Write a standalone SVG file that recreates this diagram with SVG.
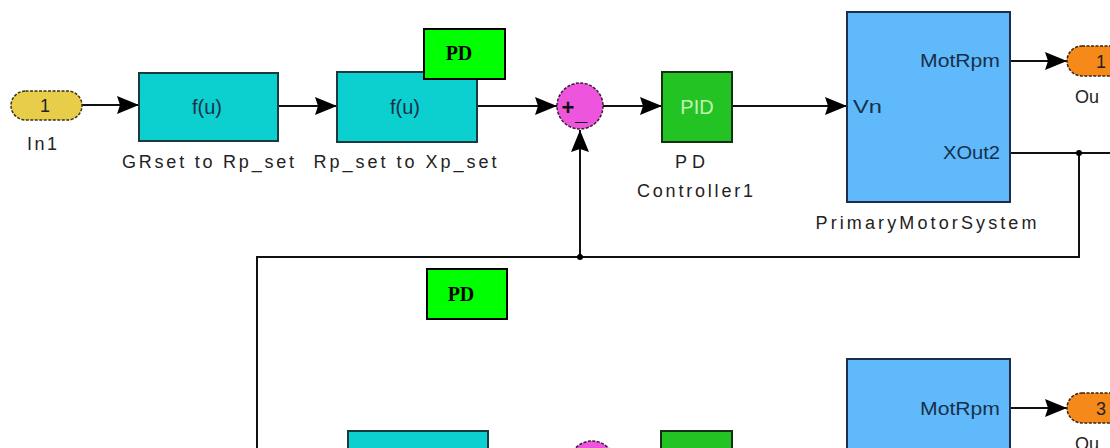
<svg xmlns="http://www.w3.org/2000/svg" width="1110" height="448" viewBox="0 0 1110 448">
<defs>
<marker id="arr" markerUnits="userSpaceOnUse" markerWidth="22" markerHeight="20" refX="22" refY="10" orient="auto">
<path d="M0,1 L22,10 L0,19 L3,10 Z" fill="#000"/>
</marker>
<style>
.ln{stroke:#111;stroke-width:2;fill:none}
.fu{fill:#0ccfcf;stroke:#1b3a3f;stroke-width:2}
.pid{fill:#22c322;stroke:#163016;stroke-width:2}
.mot{fill:#5fb9fb;stroke:#1b2f4a;stroke-width:2}
.pd{fill:#00ff00;stroke:#000;stroke-width:2}
.sum{fill:#ee55dd;stroke:#3a1a36;stroke-width:1.5;stroke-dasharray:3 1.5}
.inp{fill:#e8cd4a;stroke:#3a3410;stroke-width:1.5;stroke-dasharray:3 1.5}
.outp{fill:#f58a1a;stroke:#3a2410;stroke-width:1.5;stroke-dasharray:3 1.5}
.t{font-family:"Liberation Sans",Arial,sans-serif;font-size:18px;fill:#222}
.tb{font-family:"Liberation Sans",Arial,sans-serif;font-size:18px;fill:#17304a}
.big{font-size:20px}
.sg{font-family:"Liberation Sans",Arial,sans-serif;font-size:22px;font-weight:bold;fill:#111}
.pdt{font-family:"Liberation Serif","Times New Roman",serif;font-size:20px;font-weight:bold;fill:#000}
</style>
</defs>

<g id="connectors">
<line class="ln" x1="82" y1="105" x2="139" y2="105" marker-end="url(#arr)"/>
<line class="ln" x1="278" y1="106" x2="337" y2="106" marker-end="url(#arr)"/>
<line class="ln" x1="477" y1="106" x2="557" y2="106" marker-end="url(#arr)"/>
<line class="ln" x1="603" y1="106" x2="662" y2="106" marker-end="url(#arr)"/>
<line class="ln" x1="732" y1="106" x2="847" y2="106" marker-end="url(#arr)"/>
<line class="ln" x1="1010" y1="61" x2="1067" y2="61" marker-end="url(#arr)"/>
<line class="ln" x1="1010" y1="153" x2="1110" y2="153"/>
<polyline class="ln" points="1079,153 1079,257 257,257 257,448"/>
<line class="ln" x1="580" y1="257" x2="580" y2="130" marker-end="url(#arr)"/>
<circle cx="1079" cy="153" r="3" fill="#000"/>
<circle cx="580" cy="257" r="3" fill="#000"/>
<line class="ln" x1="1010" y1="408" x2="1067" y2="408" marker-end="url(#arr)"/>
</g>

<g id="in1">
<rect class="inp" x="11" y="91" width="71" height="29" rx="14.5"/>
<text class="t" x="45" y="112" text-anchor="middle">1</text>
<text class="t" x="42" y="150" text-anchor="middle" textLength="30" lengthAdjust="spacing">In1</text>
</g>

<g id="grset">
<rect class="fu" x="139" y="73" width="139" height="68"/>
<text class="tb big" x="207" y="114" text-anchor="middle">f(u)</text>
<text class="t" x="208" y="168" text-anchor="middle" textLength="172" lengthAdjust="spacing">GRset to Rp_set</text>
</g>

<g id="rpset">
<rect class="fu" x="337" y="72" width="140" height="70"/>
<text class="tb big" x="405" y="114" text-anchor="middle">f(u)</text>
<text class="t" x="405" y="168" text-anchor="middle" textLength="183" lengthAdjust="spacing">Rp_set to Xp_set</text>
</g>

<g id="pd1">
<rect class="pd" x="424" y="29" width="81" height="50"/>
<text class="pdt" x="459" y="60" text-anchor="middle">PD</text>
</g>

<g id="sum1">
<circle class="sum" cx="580" cy="106" r="23"/>
<text class="sg" x="568" y="115" text-anchor="middle">+</text>
<text class="sg" x="581" y="120" text-anchor="middle">_</text>
</g>

<g id="pidctrl">
<rect class="pid" x="662" y="72" width="70" height="70"/>
<text class="t big" x="697" y="114" text-anchor="middle" style="fill:#c4f2b4">PID</text>
<text class="t" x="690" y="168" text-anchor="middle" textLength="30" lengthAdjust="spacing">PD</text>
<text class="t" x="695" y="197" text-anchor="middle" textLength="116" lengthAdjust="spacing">Controller1</text>
</g>

<g id="motor1">
<rect class="mot" x="847" y="12" width="163" height="190"/>
<text class="tb" x="853" y="113" textLength="29" lengthAdjust="spacingAndGlyphs">Vn</text>
<text class="tb" x="1000" y="67" text-anchor="end" textLength="80" lengthAdjust="spacingAndGlyphs">MotRpm</text>
<text class="tb" x="1000" y="159" text-anchor="end" textLength="57" lengthAdjust="spacingAndGlyphs">XOut2</text>
<text class="t" x="926" y="229" text-anchor="middle" textLength="221" lengthAdjust="spacing">PrimaryMotorSystem</text>
</g>

<g id="out1">
<rect class="outp" x="1067" y="46" width="70" height="30" rx="15"/>
<text class="t" x="1101" y="68" text-anchor="middle">1</text>
<text class="t" x="1075" y="103">Ou</text>
</g>

<g id="pd2">
<rect class="pd" x="427" y="269" width="80" height="50"/>
<text class="pdt" x="461" y="301" text-anchor="middle">PD</text>
</g>

<g id="fu2">
<rect class="fu" x="348" y="431" width="140" height="40"/>
</g>

<g id="sum2">
<circle class="sum" cx="592" cy="464" r="23"/>
</g>

<g id="pid2">
<rect class="pid" x="661" y="431" width="71" height="40"/>
</g>

<g id="motor2">
<rect class="mot" x="847" y="359" width="163" height="110"/>
<text class="tb" x="1000" y="415" text-anchor="end" textLength="80" lengthAdjust="spacingAndGlyphs">MotRpm</text>
</g>

<g id="out3">
<rect class="outp" x="1067" y="393" width="70" height="30" rx="15"/>
<text class="t" x="1101" y="415" text-anchor="middle">3</text>
<text class="t" x="1075" y="450">Ou</text>
</g>
</svg>
